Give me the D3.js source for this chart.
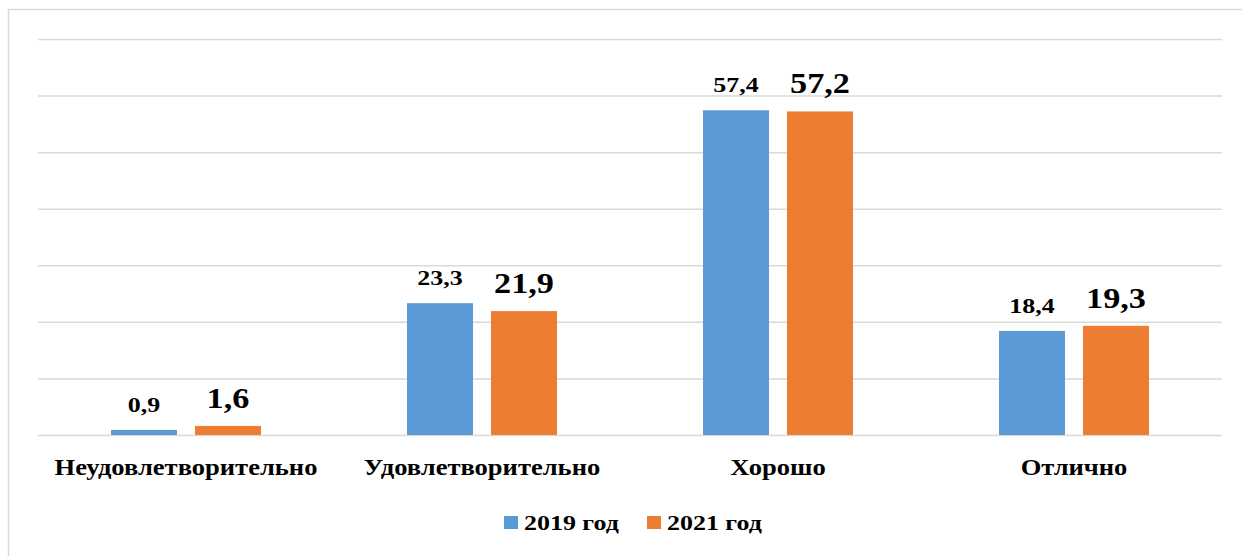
<!DOCTYPE html>
<html>
<head>
<meta charset="utf-8">
<script src="https://cdn.jsdelivr.net/npm/d3@7"></script>
<style>
  body { margin: 0; background: #fff; }
  svg { display: block; }
</style>
</head>
<body>
<svg id="chart" width="1242" height="556"></svg>
<script>
// data
const categories = ["Неудовлетворительно", "Удовлетворительно", "Хорошо", "Отлично"];
const seriesNames = ["2019 год", "2021 год"];
const values2019 = [0.9, 23.3, 57.4, 18.4];
const values2021 = [1.6, 21.9, 57.2, 19.3];
const yTicks = [0, 10, 20, 30, 40, 50, 60, 70];
const colors = ["#5b9bd5", "#ed7d31"];

const seriesValues = [values2019, values2021];
const svg = d3.select("#chart");
const FONT = "'Liberation Serif', 'Times New Roman', serif";
const STRETCH = 1.18; // text in the picture is a bit wider than normal

// small helper: bold serif text, stretched horizontally
function label(sel, size, anchor) {
    return sel
        .style("font-family", FONT)
        .style("font-weight", "bold")
        .style("font-size", size + "px")
        .attr("text-anchor", anchor)
        .attr("fill", "#000");
}

// outer frame (top + left edges visible)
svg.append("path")
    .attr("d", "M8.5,556 V9.5 H1242")
    .attr("fill", "none")
    .attr("stroke", "#d9d9d9")
    .attr("stroke-width", 1.5);

const x0 = d3.scaleBand().domain(categories).range([38, 1222]);
const x1 = d3.scaleBand().domain(seriesNames).range([0, 150]).paddingInner(0.214);
const y = d3.scaleLinear().domain([0, 70]).range([435, 39]);

// gridlines
svg.append("g")
    .attr("transform", "translate(38,0)")
    .call(d3.axisLeft(y).tickValues(yTicks).tickSize(-1184).tickFormat(""))
    .call(g => g.select(".domain").remove())
    .call(g => g.selectAll(".tick line").attr("stroke", "#d9d9d9").attr("stroke-width", 1.5));

const fmt = v => String(v).replace(".", ",");
const labelSize = [22, 29];

const groups = svg.append("g").selectAll("g")
    .data(categories)
    .join("g")
    .attr("transform", d => `translate(${x0(d) + (x0.bandwidth() - 150) / 2},0)`);

seriesNames.forEach((s, si) => {
    groups.append("rect")
        .attr("x", x1(s))
        .attr("y", (d, i) => y(seriesValues[si][i]))
        .attr("width", x1.bandwidth())
        .attr("height", (d, i) => y(0) - y(seriesValues[si][i]))
        .attr("fill", colors[si]);

    groups.append("text")
        .attr("transform", (d, i) =>
            `translate(${x1(s) + x1.bandwidth() / 2},${y(seriesValues[si][i]) - 18}) scale(${STRETCH},1)`)
        .call(label, labelSize[si], "middle")
        .text((d, i) => fmt(seriesValues[si][i]));
});

// category labels
svg.append("g").selectAll("text")
    .data(categories)
    .join("text")
    .attr("transform", d => `translate(${x0(d) + x0.bandwidth() / 2},475) scale(${STRETCH},1)`)
    .call(label, 22.5, "middle")
    .text(d => d);

// legend
const legend = svg.append("g");
const legendX = [504, 647];
seriesNames.forEach((s, si) => {
    legend.append("rect")
        .attr("x", legendX[si])
        .attr("y", 516)
        .attr("width", 14)
        .attr("height", 13)
        .attr("fill", colors[si]);
    legend.append("text")
        .attr("transform", `translate(${legendX[si] + 20},530) scale(${STRETCH},1)`)
        .call(label, 22, "start")
        .text(s);
});
</script>
</body>
</html>
